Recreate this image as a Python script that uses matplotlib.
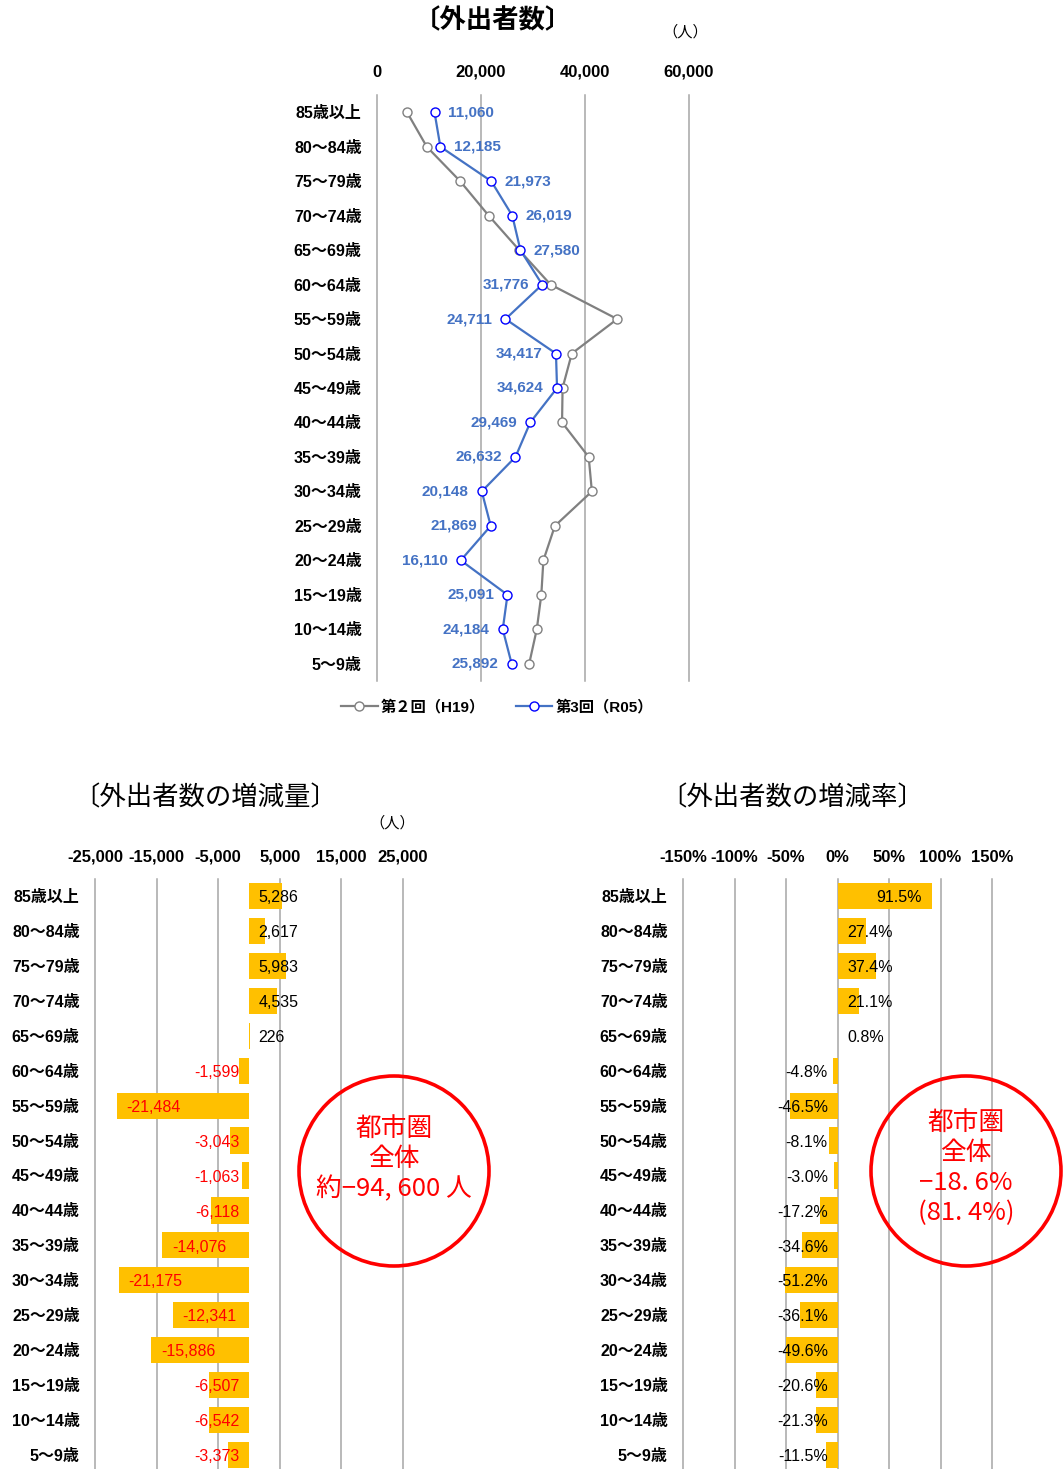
import matplotlib
matplotlib.use("Agg")
import matplotlib.pyplot as plt
from matplotlib.lines import Line2D
from matplotlib.patches import Circle

plt.rcParams['font.family'] = ['Liberation Sans', 'Noto Sans CJK JP', 'DejaVu Sans']

# ---------------- data ----------------
categories = ["85歳以上", "80～84歳", "75～79歳", "70～74歳", "65～69歳", "60～64歳",
              "55～59歳", "50～54歳", "45～49歳", "40～44歳", "35～39歳", "30～34歳",
              "25～29歳", "20～24歳", "15～19歳", "10～14歳", "5～9歳"]
r05 = [11060, 12185, 21973, 26019, 27580, 31776, 24711, 34417, 34624, 29469,
       26632, 20148, 21869, 16110, 25091, 24184, 25892]
h19 = [5774, 9568, 15990, 21484, 27354, 33375, 46195, 37460, 35687, 35587,
       40708, 41323, 34210, 31996, 31598, 30726, 29265]
change = [5286, 2617, 5983, 4535, 226, -1599, -21484, -3043, -1063, -6118,
          -14076, -21175, -12341, -15886, -6507, -6542, -3373]
rate = [91.5, 27.4, 37.4, 21.1, 0.8, -4.8, -46.5, -8.1, -3.0, -17.2,
        -34.6, -51.2, -36.1, -49.6, -20.6, -21.3, -11.5]
top_ticks = [0, 20000, 40000, 60000]
chg_ticks = [-25000, -15000, -5000, 5000, 15000, 25000]
rate_ticks = [-150, -100, -50, 0, 50, 100, 150]
legend_labels = ["第２回（H19）", "第3回（R05）"]

W, H = 1063, 1469
fig = plt.figure(figsize=(W / 100, H / 100), dpi=100)


def px_axes(left, right, top, bottom):
    return fig.add_axes([left / W, 1 - bottom / H, (right - left) / W, (bottom - top) / H])


GRID = '#A6A6A6'
ypos = list(range(len(categories)))
CJK = ['Noto Sans CJK JP', 'DejaVu Sans']


def style_axes(ax, ticks, labels, xlim, pad):
    ax.set_xlim(*xlim)
    ax.set_ylim(len(categories) - 0.5, -0.5)
    ax.xaxis.tick_top()
    ax.set_xticks(ticks)
    ax.set_xticklabels(labels, fontsize=12, fontweight='bold')
    ax.tick_params(axis='x', length=0, pad=pad)
    ax.set_yticks(ypos)
    ax.set_yticklabels(categories, fontsize=11.5, fontweight='bold')
    ax.tick_params(axis='y', length=0, pad=11)
    for s in ax.spines.values():
        s.set_visible(False)
    for t in ticks:
        ax.axvline(t, color=GRID, lw=1.1, zorder=0, clip_on=False)
    ax.set_facecolor('none')


# ---------------- top chart ----------------
ax1 = px_axes(377, 689, 95, 681)
style_axes(ax1, top_ticks, [f"{t:,}" for t in top_ticks], (0, 60000), 11)
ax1.plot(h19, ypos, color='#808080', lw=1.6, marker='o', ms=6.5,
         mfc='white', mec='#808080', mew=1, zorder=3)
ax1.plot(r05, ypos, color='#4472C4', lw=1.6, marker='o', ms=6.5,
         mfc='white', mec='#0000FF', mew=1, zorder=4)
for i, v in enumerate(r05):
    if i < 5:
        ax1.annotate(f"{v:,}", (v, i), xytext=(9.5, 0), textcoords='offset points',
                     ha='left', va='center', fontsize=11, fontweight='bold', color='#4472C4')
    else:
        ax1.annotate(f"{v:,}", (v, i), xytext=(-9.5, 0), textcoords='offset points',
                     ha='right', va='center', fontsize=11, fontweight='bold', color='#4472C4')

fig.text(493 / W, 1 - 21 / H, "〔外出者数〕", fontsize=19, ha='center', va='center',
         family=CJK, fontweight='bold')
fig.text(685 / W, 1 - 32 / H, "（人）", fontsize=11, ha='center', va='center', family=CJK)

handles = [Line2D([], [], color='#808080', lw=1.6, marker='o', ms=6.5, mfc='white', mec='#808080'),
           Line2D([], [], color='#4472C4', lw=1.6, marker='o', ms=6.5, mfc='white', mec='#0000FF')]
fig.legend(handles, legend_labels, loc='center', bbox_to_anchor=(497 / W, 1 - 707 / H),
           ncol=2, frameon=False, numpoints=1, handlelength=2.4, handletextpad=0.2,
           columnspacing=2.0, prop={'size': 11, 'weight': 'bold'})

# ---------------- bottom-left chart ----------------
ax2 = px_axes(95, 403, 878.5, 1472.5)
style_axes(ax2, chg_ticks, [f"{t:,}" for t in chg_ticks], (-25000, 25000), 10)
ax2.barh(ypos, change, height=0.75, color='#FFC000', zorder=2)
for i, v in enumerate(change):
    if v >= 0:
        ax2.annotate(f"{v:,}", (0, i), xytext=(7, -1.2), textcoords='offset points',
                     ha='left', va='center', fontsize=11.5, color='black', zorder=5)
    elif abs(v) >= 10000:
        ax2.annotate(f"{v:,}", (v, i), xytext=(7, -1.2), textcoords='offset points',
                     ha='left', va='center', fontsize=11.5, color='#FF0000', zorder=5)
    else:
        ax2.annotate(f"{v:,}", (0, i), xytext=(-6.5, -1.2), textcoords='offset points',
                     ha='right', va='center', fontsize=11.5, color='#FF0000', zorder=5)

fig.text(205 / W, 1 - 798 / H, "〔外出者数の増減量〕", fontsize=19, ha='center', va='center',
         family=CJK)
fig.text(392 / W, 1 - 823 / H, "（人）", fontsize=11, ha='center', va='center', family=CJK)

# ---------------- bottom-right chart ----------------
ax3 = px_axes(683, 992, 878.5, 1472.5)
style_axes(ax3, rate_ticks, [f"{t}%" for t in rate_ticks], (-150, 150), 10)
ax3.barh(ypos, rate, height=0.75, color='#FFC000', zorder=2)
for i, v in enumerate(rate):
    if v > 50:
        ax3.annotate(f"{v:.1f}%", (v, i), xytext=(-7, -1.2), textcoords='offset points',
                     ha='right', va='center', fontsize=11.5, color='black', zorder=5)
    elif v >= 0:
        ax3.annotate(f"{v:.1f}%", (0, i), xytext=(7, -1.2), textcoords='offset points',
                     ha='left', va='center', fontsize=11.5, color='black', zorder=5)
    else:
        ax3.annotate(f"{v:.1f}%", (0, i), xytext=(-7, -1.2), textcoords='offset points',
                     ha='right', va='center', fontsize=11.5, color='black', zorder=5)

fig.text(792 / W, 1 - 798 / H, "〔外出者数の増減率〕", fontsize=19, ha='center', va='center',
         family=CJK)

# ---------------- circle annotations ----------------
ov = fig.add_axes([0, 0, 1, 1], zorder=10)
ov.set_xlim(0, W)
ov.set_ylim(H, 0)
ov.axis('off')
ov.patch.set_alpha(0)
ov.add_patch(Circle((394, 1171), 95, fill=False, ec='#FF0000', lw=2.6))
ov.add_patch(Circle((966, 1171), 95, fill=False, ec='#FF0000', lw=2.6))
ov.text(394, 1159, "都市圏\n全体\n約−94, 600 人", fontsize=18.5, color='#FF0000',
        ha='center', va='center', linespacing=1.2, family=CJK)
ov.text(966, 1168, "都市圏\n全体\n−18. 6%\n(81. 4%)", fontsize=18.5, color='#FF0000',
        ha='center', va='center', linespacing=1.2, family=CJK)

fig.savefig("out.png", dpi=100)
